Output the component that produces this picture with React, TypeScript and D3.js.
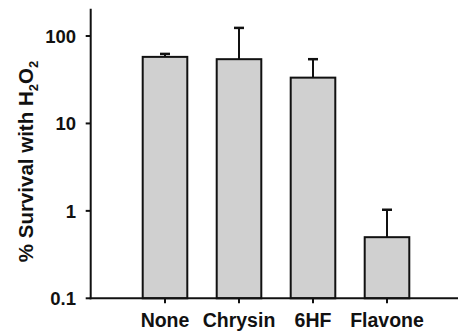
import React from "react";
import * as d3 from "d3";

const categories = ["None", "Chrysin", "6HF", "Flavone"];
const means = [57.7, 54.3, 33.4, 0.5];
const upperErr = [62.4, 123.8, 54.3, 1.03];
const yTicks = [0.1, 1, 10, 100];
const yTickLabels = ["0.1", "1", "10", "100"];

const W = 458;
const H = 334;
const FONT = "'Liberation Sans', Arial, Helvetica, sans-serif";

export default function App() {
  const y = d3.scaleLog().domain([0.1, 100]).range([298.3, 36]);
  const x = d3.scalePoint<string>().domain(categories).range([128, 424]).padding(0.5);
  const barW = 44.6;
  const axisX = 90.7;
  const axisTop = y(205);
  const base = y(0.1);
  const capW = 10;

  return (
    <svg
      width={W}
      height={H}
      style={{ position: "absolute", left: 0, top: 0, background: "#fff" }}
      fontFamily={FONT}
    >
      {categories.map((c, i) => {
        const cx = x(c)!;
        return (
          <g key={c}>
            <line x1={cx} x2={cx} y1={y(means[i])} y2={y(upperErr[i])} stroke="#111" strokeWidth={2} />
            <line x1={cx - capW / 2} x2={cx + capW / 2} y1={y(upperErr[i])} y2={y(upperErr[i])} stroke="#111" strokeWidth={2.5} />
            <rect
              x={cx - barW / 2}
              y={y(means[i])}
              width={barW}
              height={base - y(means[i])}
              fill="#d0d0d0"
              stroke="#111"
              strokeWidth={2}
            />
          </g>
        );
      })}
      <line x1={axisX} x2={axisX} y1={axisTop} y2={base + 1} stroke="#111" strokeWidth={2} />
      {yTicks.map((t, i) => (
        <g key={t}>
          <line x1={axisX - 5} x2={axisX} y1={y(t)} y2={y(t)} stroke="#111" strokeWidth={2} />
          <text
            x={76}
            y={y(t)}
            dy="0.36em"
            textAnchor="end"
            fontSize={18.5}
            fontWeight="bold"
            fill="#111"
          >
            {yTickLabels[i]}
          </text>
        </g>
      ))}
      <line x1={axisX - 1} x2={W} y1={base} y2={base} stroke="#111" strokeWidth={2} />
      {categories.map((c) => (
        <g key={c}>
          <line x1={x(c)!} x2={x(c)!} y1={base} y2={base + 5} stroke="#111" strokeWidth={2} />
          <text x={x(c)!} y={326.7} textAnchor="middle" fontSize={19.5} fontWeight="bold" fill="#111">
            {c}
          </text>
        </g>
      ))}
      <text
        transform={`translate(33,161.5) rotate(-90)`}
        textAnchor="middle"
        fontSize={20.5}
        fontWeight="bold"
        fill="#111"
      >
        <tspan>% Survival with H</tspan>
        <tspan fontSize={13} dy={5}>2</tspan>
        <tspan dy={-5}>O</tspan>
        <tspan fontSize={13} dy={5}>2</tspan>
      </text>
    </svg>
  );
}
